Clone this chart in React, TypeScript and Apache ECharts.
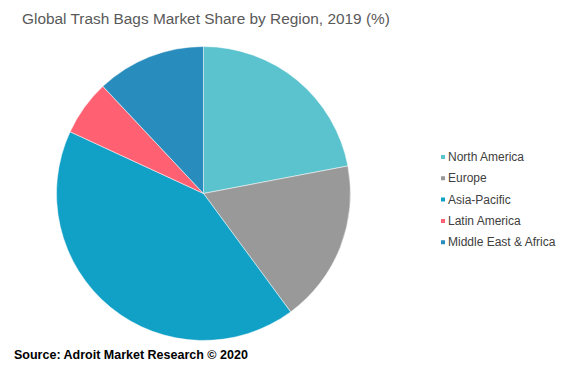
import React, { useEffect, useRef } from "react";
import * as echarts from "echarts";

const regions = ["North America", "Europe", "Asia-Pacific", "Latin America", "Middle East & Africa"];
const shares = [22.0, 17.9, 42.0, 6.1, 12.0];
const colors = ["#5BC3CD", "#999999", "#11A0C6", "#FF6072", "#288CBC"];

export default function App() {
  const ref = useRef<HTMLDivElement>(null);
  useEffect(() => {
    document.body.style.margin = "0";
    const chart = echarts.init(ref.current!, undefined, { renderer: "svg" });
    chart.setOption({
      animation: false,
      backgroundColor: "#ffffff",
      title: {
        text: "Global Trash Bags Market Share by Region, 2019 (%)",
        left: 17,
        top: 6,
        textStyle: { fontFamily: "Liberation Sans, Arial", fontSize: 15.4, fontWeight: "normal", color: "#595959" },
      },
      legend: {
        orient: "vertical",
        left: 439,
        top: 151,
        padding: 0,
        icon: "rect",
        itemWidth: 6,
        itemHeight: 6,
        itemGap: 9.3,
        textStyle: { fontFamily: "Liberation Sans, Arial", fontSize: 12, color: "#404040", padding: [0, 0, 0, -3] },
        data: regions,
      },
      graphic: [
        {
          type: "text",
          left: 14,
          top: 348,
          style: {
            text: "Source: Adroit Market Research © 2020",
            font: "bold 12.5px 'Liberation Sans', Arial",
            fill: "#000000",
          },
        },
      ],
      series: [
        {
          type: "pie",
          center: [203.5, 193.5],
          radius: 147,
          startAngle: 90,
          clockwise: true,
          label: { show: false },
          labelLine: { show: false },
          itemStyle: { borderColor: "#ffffff", borderWidth: 0.5 },
          emphasis: { disabled: true },
          data: regions.map((name, i) => ({ name, value: shares[i], itemStyle: { color: colors[i] } })),
        },
      ],
    });
    return () => chart.dispose();
  }, []);
  return <div ref={ref} style={{ width: 561, height: 373 }} />;
}
